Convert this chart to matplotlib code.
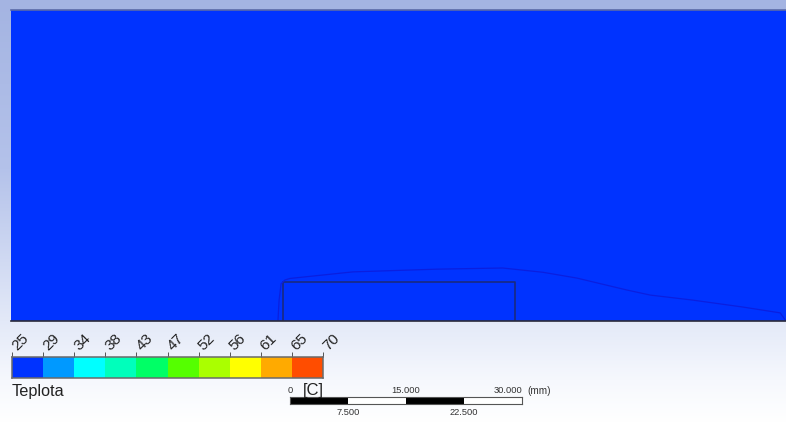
import numpy as np
import matplotlib
matplotlib.use('Agg')
import matplotlib.pyplot as plt
from matplotlib.colors import ListedColormap, BoundaryNorm, LinearSegmentedColormap
from matplotlib.transforms import ScaledTranslation

W = 786
H = 423
plt.rcParams['font.family'] = ['Liberation Sans', 'DejaVu Sans']

# temperature legend
levels = [25, 29, 34, 38, 43, 47, 52, 56, 61, 65, 70]
colors = ['#0033ff', '#0099ff', '#00ffff', '#00ffbb', '#00ff66', '#55ff00',
          '#aaff00', '#ffff00', '#ffaa00', '#ff4d00']
legend_name = 'Teplota'
legend_unit = '[C]'

# field, in mm from the left end of the block
block_x = [0, 0, 30, 30]
block_y = [0, 4.98, 4.98, 0]
contour_x = [-0.65, -0.5, -0.25, 0.25, 0.9, 9.05, 19.9, 28.4, 33.6, 38, 44.5, 47.5, 53, 59.5, 64.3, 65.05]
contour_y = [0, 2.7, 4.8, 5.3, 5.5, 6.35, 6.7, 6.85, 6.3, 5.55, 4.0, 3.35, 2.7, 1.8, 1.05, 0]

# scale bar
scale_ticks = [0, 7.5, 15, 22.5, 30]
scale_top = ['0', '15.000', '30.000']
scale_top_pos = [0, 15, 30]
scale_top_align = ['center', 'center', 'right']
scale_bottom = ['7.500', '22.500']
scale_bottom_pos = [7.5, 22.5]
scale_unit = '(mm)'

# window background, top to bottom
bg_stops = ['#a4b4e2', '#b4c2ea', '#e3e9f8', '#f6f8fd', '#ffffff']
bg_pos = [0, 0.4, 0.76, 0.9, 1]


def px_axes(fig, x0, y0, x1, y1, **kw):
    # axes placed by pixel box, y measured from the top
    return fig.add_axes([x0 / W, 1 - y1 / H, (x1 - x0) / W, (y1 - y0) / H], **kw)


fig = plt.figure(figsize=(W / 100, H / 100), dpi=100)

bg = px_axes(fig, 0, 0, W, H)
bg_cmap = LinearSegmentedColormap.from_list('bg', list(zip(bg_pos, bg_stops)))
bg.imshow(np.linspace(0, 1, 256).reshape(-1, 1), cmap=bg_cmap, aspect='auto')
bg.axis('off')

# main field
ax = px_axes(fig, 11, 10, 786, 321)
ax.set_facecolor(colors[0])
ax.set_xlim(-35.17, 65.05)
ax.set_ylim(0, 40.2)
ax.plot(block_x, block_y, color='#1a2a80', lw=1.2)
ax.plot(contour_x, contour_y, color='#0a1fe0', lw=0.9)
ax.set_xticks([])
ax.set_yticks([])
for s in ['left', 'right']:
    ax.spines[s].set_visible(False)
ax.spines['top'].set_color('#5a6aa8')
ax.spines['top'].set_linewidth(1.2)
ax.spines['bottom'].set_color('#2a2a3a')
ax.spines['bottom'].set_linewidth(1.2)

# legend bar
cax = px_axes(fig, 12, 357, 323, 378)
n = len(colors)
cax.pcolormesh(np.arange(n + 1), [0, 1], np.arange(n).reshape(1, -1),
               cmap=ListedColormap(colors), norm=BoundaryNorm(np.arange(n + 1) - 0.5, n))
cax.set_yticks([])
cax.set_xticks(np.arange(n + 1))
cax.set_xticklabels([str(v) for v in levels], rotation=45, ha='left', va='center',
                    fontsize=11, color='#222222', rotation_mode='anchor')
cax.xaxis.tick_top()
cax.tick_params(axis='x', length=3.6, width=0.7, color='#555555', pad=3)
for lab in cax.get_xticklabels():
    lab.set_transform(lab.get_transform() + ScaledTranslation(2 / 100, 0, fig.dpi_scale_trans))
for s in cax.spines.values():
    s.set_color('#6a6a6a')
    s.set_linewidth(1.1)
fig.text(12 / W, 1 - 391 / H, legend_name, fontsize=11.7, color='#222222', va='center')
fig.text(303 / W, 1 - 390 / H, legend_unit, fontsize=12, color='#222222', va='center')

# scale bar
sax = px_axes(fig, 290, 397, 522, 404)
sax.set_xlim(scale_ticks[0], scale_ticks[-1])
sax.set_ylim(0, 1)
for i in range(len(scale_ticks) - 1):
    sax.barh(0.5, scale_ticks[i + 1] - scale_ticks[i], left=scale_ticks[i], height=1,
             color='black' if i % 2 == 0 else 'white')
sax.set_xticks([])
sax.set_yticks([])
for s in sax.spines.values():
    s.set_color('#555555')
    s.set_linewidth(0.8)
for lab, pos, al in zip(scale_top, scale_top_pos, scale_top_align):
    sax.annotate(lab, (pos, 1), xytext=(0, 1.5), textcoords='offset points', ha=al,
                 va='bottom', fontsize=6.7, color='#333333')
for lab, pos in zip(scale_bottom, scale_bottom_pos):
    sax.annotate(lab, (pos, 0), xytext=(0, -3), textcoords='offset points', ha='center',
                 va='top', fontsize=6.7, color='#333333')
fig.text(527 / W, 1 - 391 / H, scale_unit, fontsize=7.2, color='#333333', va='center')

fig.savefig('out.png', dpi=100)
